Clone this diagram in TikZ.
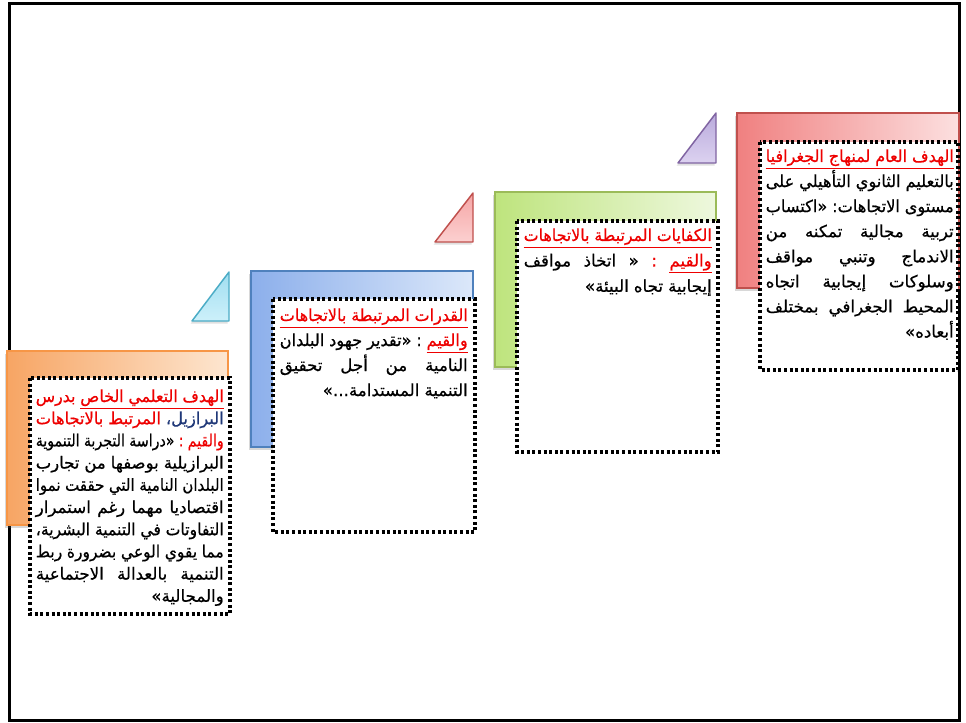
\documentclass[tikz,border=0pt]{standalone}
\usepackage{fontspec}
\usepackage{graphicx}
\usetikzlibrary{shadows}
\TeXXeTstate=1
\newfontfamily\arfont[Script=Arabic,FakeBold=0.6]{DejaVu Sans}
\definecolor{oL}{RGB}{247,165,100}\definecolor{oR}{RGB}{253,230,208}\definecolor{oB}{RGB}{247,150,70}
\definecolor{bL}{RGB}{140,175,235}\definecolor{bR}{RGB}{220,232,250}\definecolor{bB}{RGB}{79,129,189}
\definecolor{gL}{RGB}{190,228,125}\definecolor{gR}{RGB}{238,248,222}\definecolor{gB}{RGB}{155,187,89}
\definecolor{rL}{RGB}{240,128,128}\definecolor{rR}{RGB}{252,224,224}\definecolor{rB}{RGB}{192,80,77}
\definecolor{tcA}{RGB}{160,222,240}\definecolor{tcB}{RGB}{205,240,250}\definecolor{tcD}{RGB}{75,172,198}
\definecolor{trA}{RGB}{245,165,165}\definecolor{trB}{RGB}{252,208,208}\definecolor{trD}{RGB}{192,80,77}
\definecolor{tpA}{RGB}{185,170,220}\definecolor{tpB}{RGB}{220,210,240}\definecolor{tpD}{RGB}{128,100,162}
\definecolor{tred}{RGB}{238,0,0}
\definecolor{tnavy}{RGB}{31,56,120}
\newsavebox\lnbox
\newsavebox\lnout
\newlength\LW
\newlength\tmpw
% #1 = line content in visual (left-to-right) order of segments
\newcommand\MkLine[1]{%
  \sbox\lnbox{#1}%
  \ifdim\wd\lnbox>\LW
    \setlength\tmpw{\wd\lnbox}%
    \pgfmathsetmacro\lnratio{\LW/\tmpw}%
    \setbox\lnout\hbox{\scalebox{\lnratio}[1]{\usebox\lnbox}}%
  \else
    \setbox\lnout\hbox to\LW{#1}%
  \fi}
\newcommand\JV[1]{\MkLine{#1}\box\lnout}
\newcommand\TV[1]{\MkLine{{\color{tred}#1}}\hbox{{\color{tred}$\underline{\box\lnout}$}}}
\newcommand\Us[1]{\hbox{{\color{tred}$\underline{\hbox{#1}}$}}}
\newcommand\ArSet[1]{\arfont\fontsize{12.5}{15}\selectfont\setlength\LW{141pt}%
  \spaceskip=.3em plus 1fil\relax\xspaceskip=\spaceskip
  \baselineskip=#1\relax\lineskiplimit=-30pt\lineskip=0pt\relax}
\begin{document}
\begin{tikzpicture}[x=0.75pt,y=-0.75pt,
  rectbox/.style={line width=1.1pt,drop shadow={shadow xshift=-1.5pt,shadow yshift=-2.5pt,opacity=.25,fill=black!60}},
  dotbox/.style={fill=white,line width=2.3pt,dash pattern=on 2.3pt off 1.9pt},
  tri/.style={line width=1.1pt,line join=round,drop shadow={shadow xshift=-1pt,shadow yshift=-2pt,opacity=.2,fill=black!60}},
  txt/.style={inner sep=0pt,anchor=base east}]
\useasboundingbox (0,0) rectangle (966,723);
\fill[white] (0,0) rectangle (966,723);
\draw[line width=2.3pt] (9.5,3.5) rectangle (959.5,720.5);
% colored rectangles
\draw[rectbox,draw=oB,left color=oL,right color=oR] (7,351) rectangle (228,525);
\draw[rectbox,draw=bB,left color=bL,right color=bR] (251,271) rectangle (473,447);
\draw[rectbox,draw=gB,left color=gL,right color=gR] (495,192) rectangle (716,367);
\draw[rectbox,draw=rB,left color=rL,right color=rR] (737,113) rectangle (959,288);
% triangles
\draw[tri,draw=tcD,top color=tcA,bottom color=tcB] (192,321) -- (229,272) -- (229,321) -- cycle;
\draw[tri,draw=trD,top color=trA,bottom color=trB] (435,242) -- (473,193) -- (473,242) -- cycle;
\draw[tri,draw=tpD,top color=tpA,bottom color=tpB] (678,163) -- (716,113) -- (716,163) -- cycle;
% dotted boxes
\draw[dotbox] (30,378) rectangle (230,614);
\draw[dotbox] (273,299) rectangle (475,532);
\draw[dotbox] (517,221) rectangle (718,452);
\draw[dotbox] (760,142) rectangle (958,370);
% texts
\node[txt] (t1) at (224,402) {\vtop{\ArSet{16.65pt}%
\JV{{\color{tred}\beginR بدرس\endR} \Us{\beginR الهدف التعلمي الخاص\endR}}
\JV{{\color{tred}\beginR المرتبط بالاتجاهات\endR} {\color{tnavy}\beginR البرازيل،\endR}}
\JV{\beginR «دراسة التجربة التنموية\endR{} {\color{tred}\beginR والقيم :\endR}}
\JV{\beginR البرازيلية بوصفها من تجارب\endR}
\JV{\beginR البلدان النامية التي حققت نموا\endR}
\JV{\beginR اقتصاديا مهما رغم استمرار\endR}
\JV{\beginR التفاوتات في التنمية البشرية،\endR}
\JV{\beginR مما يقوي الوعي بضرورة ربط\endR}
\JV{\beginR التنمية بالعدالة الاجتماعية\endR}
\JV{\hfill\beginR والمجالية»\endR}}};
\node[txt] (t2) at (468,321) {\vtop{\ArSet{18.75pt}%
\TV{\beginR القدرات المرتبطة بالاتجاهات\endR}
\JV{\beginR «تقدير جهود البلدان\endR{} \beginR :\endR{} \Us{\beginR والقيم\endR}}
\JV{\beginR النامية من أجل تحقيق\endR}
\JV{\hfill\beginR التنمية المستدامة...»\endR}}};
\node[txt] (t3) at (712,241) {\vtop{\ArSet{19.1pt}%
\TV{\beginR الكفايات المرتبطة بالاتجاهات\endR}
\JV{\beginR « اتخاذ مواقف\endR{} {\color{tred}\beginR :\endR} \Us{\beginR والقيم\endR}}
\JV{\hfill\beginR إيجابية تجاه البيئة»\endR}}};
\node[txt] (t4) at (954,162) {\vtop{\ArSet{18.8pt}%
\TV{\beginR الهدف العام لمنهاج الجغرافيا\endR}
\JV{\beginR بالتعليم الثانوي التأهيلي على\endR}
\JV{\beginR مستوى الاتجاهات: «اكتساب\endR}
\JV{\beginR تربية مجالية تمكنه من\endR}
\JV{\beginR الاندماج وتنبي مواقف\endR}
\JV{\beginR وسلوكات إيجابية اتجاه\endR}
\JV{\beginR المحيط الجغرافي بمختلف\endR}
\JV{\hfill\beginR أبعاده»\endR}}};
\end{tikzpicture}
\end{document}
